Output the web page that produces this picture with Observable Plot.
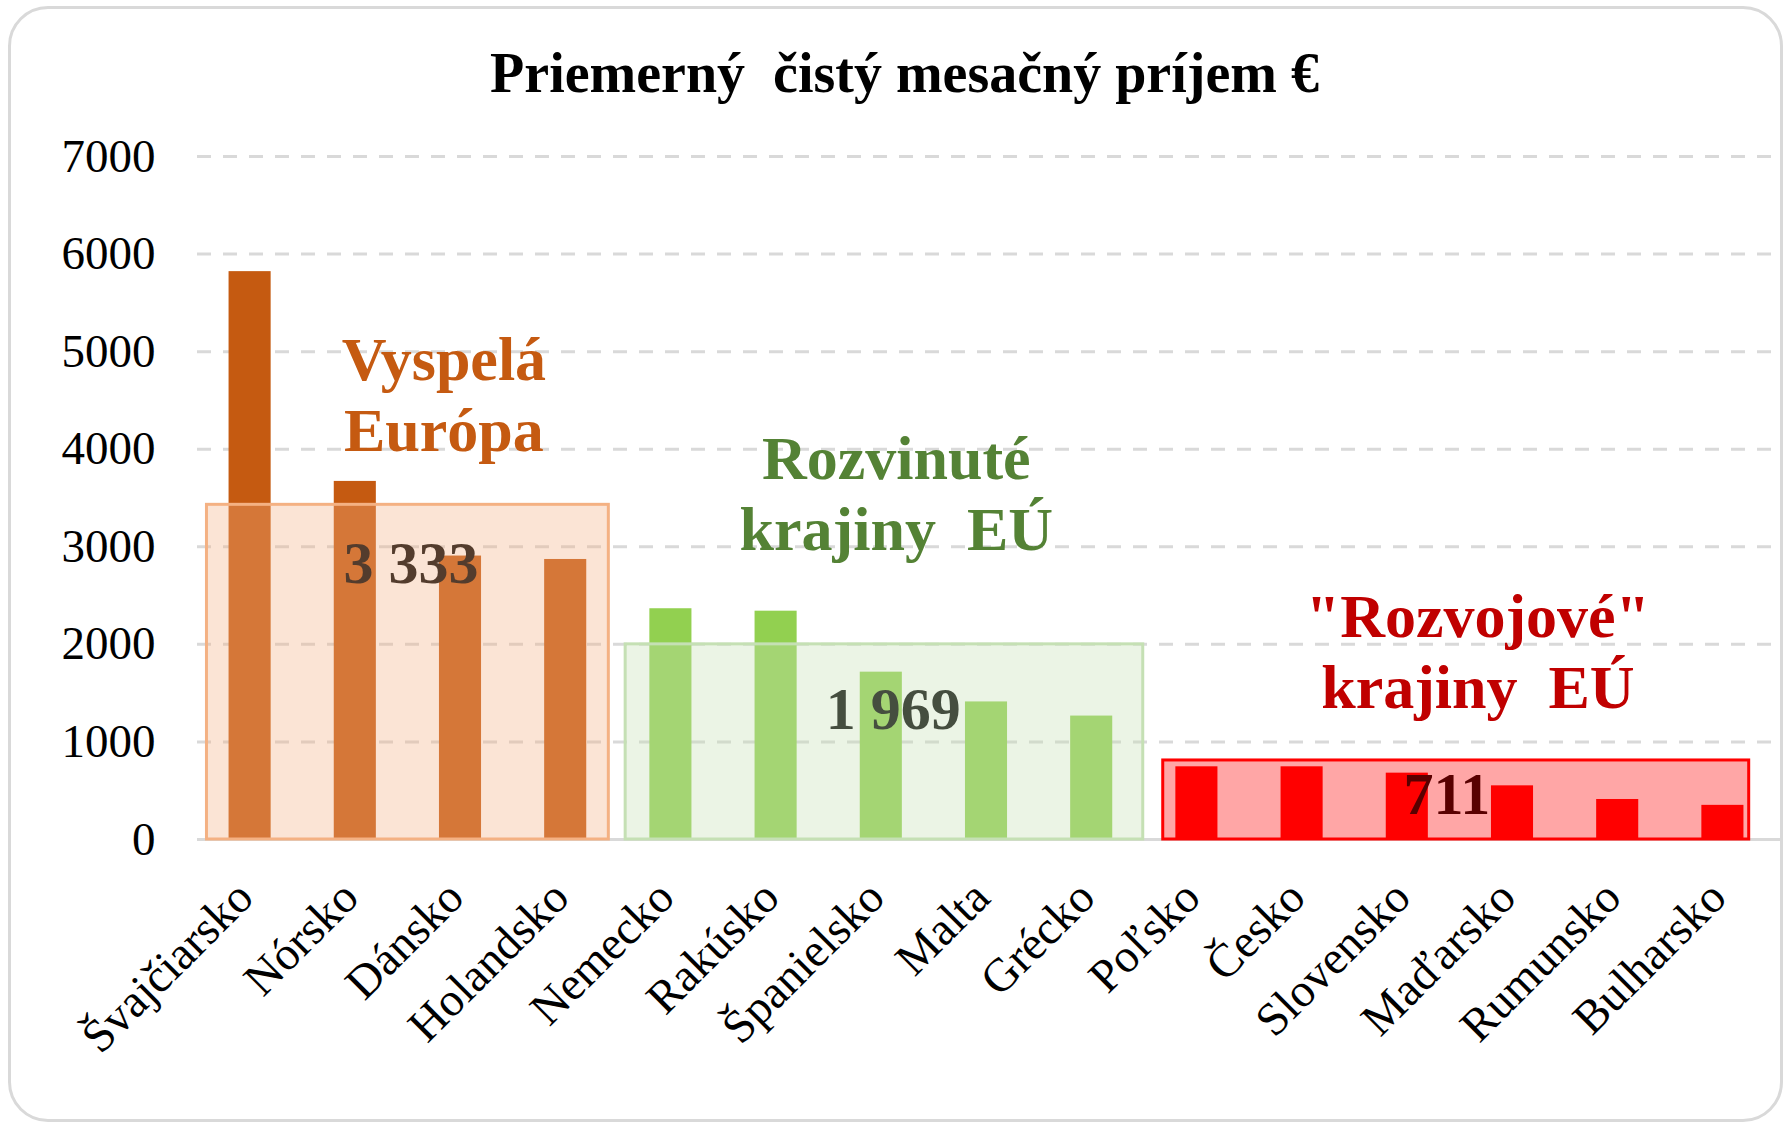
<!DOCTYPE html>
<html><head><meta charset="utf-8">
<script src="https://cdn.jsdelivr.net/npm/d3@7"></script>
<script src="https://cdn.jsdelivr.net/npm/@observablehq/plot@0.6"></script>
<style>
body{margin:0;background:#fff;}
#wrap{position:relative;width:1785px;height:1125px;overflow:hidden;background:#fff;}
#frame{position:absolute;left:8px;top:6px;width:1775px;height:1116px;box-sizing:border-box;border:3px solid #d9d9d9;border-radius:40px;}
#chart{position:absolute;left:0;top:0;}
svg text{white-space:pre;}
</style></head><body>
<div id="wrap"><div id="frame"></div><div id="chart"></div></div>
<script>
// ---- data ----
const title = "Priemerný  čistý mesačný príjem €";
const countries = ["Švajčiarsko","Nórsko","Dánsko","Holandsko","Nemecko","Rakúsko","Španielsko","Malta","Grécko","Poľsko","Česko","Slovensko","Maďarsko","Rumunsko","Bulharsko"];
const incomes = [5820, 3670, 2905, 2870, 2365, 2340, 1715, 1410, 1265, 745, 745, 680, 550, 410, 350];
const groupOf = [0,0,0,0,1,1,1,1,1,2,2,2,2,2,2];
const groupNames = ["Vyspelá\nEurópa", "Rozvinuté\nkrajiny  EÚ", "\"Rozvojové\"\nkrajiny  EÚ"];
const groupAverages = [3333, 1969, 711];
const groupAverageLabels = ["3 333", "1 969", "711"];
const groupBoxTops = [3430, 2000, 810];
const yTicks = [0, 1000, 2000, 3000, 4000, 5000, 6000, 7000];

// ---- styles ----
const barColors = ["#c55a11", "#92d050", "#ff0000"];
const boxFills = ["#f4b183", "#c5e0b4", "#ff0000"];
const boxOpacity = [0.34, 0.35, 0.35];
const boxStrokes = ["#f4b183", "#c5e0b4", "#ff0000"];
const nameColors = ["#c55a11", "#548235", "#c00000"];
const boxPadL = [0.41, 0.43, 0.32], boxPadR = [0.41, 0.49, 0.25];
const nameDx = [36, 15, 18], nameDy = [-54, -94, -52];
const avgDx = [3, 12, -13], avgDy = [69, 82, 44];

// ---- tables ----
const bars = countries.map((c, i) => ({i, country: c, value: incomes[i], g: groupOf[i]}));
const groups = groupNames.map((name, g) => {
  const idx = groupOf.map((v, i) => v === g ? i : -1).filter(i => i >= 0);
  return {g, name, first: d3.min(idx), last: d3.max(idx), avg: groupAverages[g], avgLabel: groupAverageLabels[g], top: groupBoxTops[g]};
});

const serif = "'Liberation Serif', 'Times New Roman', serif";
const marks = [
  Plot.ruleY(yTicks.filter(d => d > 0), {stroke: "#d9d9d9", strokeWidth: 3, strokeDasharray: "14,12", insetRight: -7}),
  Plot.ruleY([0], {stroke: "#d9d9d9", strokeWidth: 3, insetRight: -7}),
  Plot.rectY(bars, {x1: d => d.i - 0.2, x2: d => d.i + 0.2, y1: 0, y2: "value", fill: d => barColors[d.g]}),
  ...groups.map(g => Plot.text([g], {x: d => (d.first + d.last) / 2, y: "avg", text: "avgLabel", fill: "black", fontWeight: "bold", fontSize: 60, lineAnchor: "bottom", dx: avgDx[g.g], dy: avgDy[g.g]})),
  ...groups.map(g => Plot.rect([g], {x1: d => d.first - boxPadL[d.g], x2: d => d.last + boxPadR[d.g], y1: 0, y2: "top", fill: boxFills[g.g], fillOpacity: boxOpacity[g.g], stroke: boxStrokes[g.g], strokeWidth: 3})),
  ...groups.map(g => Plot.text([g], {x: d => (d.first + d.last) / 2, y: "top", text: "name", fill: nameColors[g.g], fontWeight: "bold", fontSize: 62, lineHeight: 1.15, lineAnchor: "bottom", dx: nameDx[g.g], dy: nameDy[g.g]})),
  Plot.axisY(yTicks, {tickSize: 0, tickPadding: 42, fontSize: 47, tickFormat: d => String(d), label: null}),
  Plot.axisX(d3.range(countries.length), {tickRotate: -45, tickSize: 0, tickPadding: 50, dx: -5, fontSize: 47, tickFormat: i => countries[i], label: null}),
  Plot.text([title], {frameAnchor: "top", lineAnchor: "bottom", dx: -82, dy: -65, fontSize: 56, fontWeight: "bold", fill: "black"})
];

const chart = Plot.plot({
  width: 1785, height: 1125,
  marginTop: 156, marginBottom: 286, marginLeft: 197, marginRight: 10,
  style: {fontFamily: serif, color: "black", background: "transparent", overflow: "visible"},
  x: {type: "linear", domain: [-0.5, countries.length - 0.5]},
  y: {domain: [0, 7000]},
  marks
});
document.getElementById("chart").appendChild(chart);
</script>
</body></html>
